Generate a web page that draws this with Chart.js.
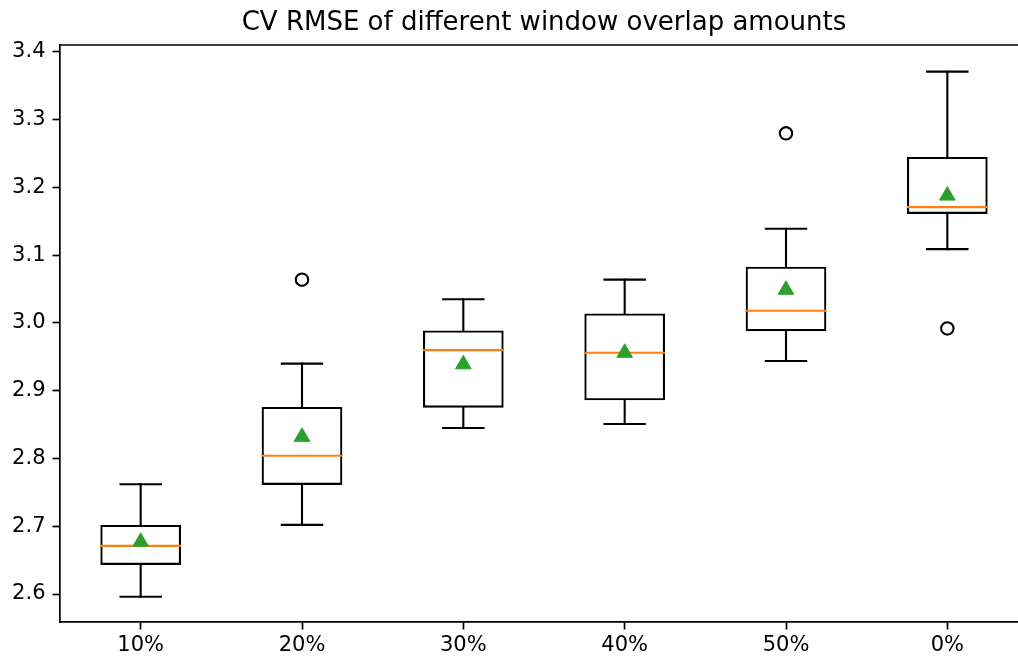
<!DOCTYPE html>
<html>
<head>
<meta charset="utf-8">
<script src="https://cdn.jsdelivr.net/npm/chart.js@4/dist/chart.umd.min.js"></script>
<style>
  html, body { margin: 0; padding: 0; background: #fff; overflow: hidden; }
  #wrap { width: 1018px; height: 658px; overflow: hidden; }
  canvas { display: block; }
</style>
</head>
<body>
<div id="wrap"><canvas id="chart" width="1040" height="658"></canvas></div>
<script>
const labels = ["10%", "20%", "30%", "40%", "50%", "0%"];
const whiskerLow = [2.596, 2.702, 2.845, 2.851, 2.944, 3.109];
const boxLow = [2.643, 2.761, 2.875, 2.886, 2.988, 3.161];
const medians = [2.671, 2.804, 2.960, 2.956, 3.018, 3.171];
const boxHigh = [2.702, 2.876, 2.989, 3.014, 3.083, 3.245];
const whiskerHigh = [2.762, 2.940, 3.035, 3.064, 3.139, 3.371];
const means = [2.677, 2.832, 2.939, 2.956, 3.049, 3.188];
const outlierGroups = [2, 5, 6];
const outlierValues = [3.064, 3.280, 2.992];
const yTicks = [2.6, 2.7, 2.8, 2.9, 3.0, 3.1, 3.2, 3.3, 3.4];

const font = "'DejaVu Sans', sans-serif";
const BOX_INDEX = 2;

// whiskers, caps and medians go on top of the box outlines, under the markers
const whiskerPlugin = {
  id: "whiskers",
  afterDatasetDraw(chart, args) {
    if (args.index !== BOX_INDEX) return;
    const { ctx, scales: { x, y } } = chart;
    const line = (x0, y0, x1, y1) => {
      ctx.beginPath(); ctx.moveTo(x0, y0); ctx.lineTo(x1, y1); ctx.stroke();
    };
    ctx.save();
    labels.forEach((_, i) => {
      const cx = x.getPixelForValue(i + 1);
      const capL = x.getPixelForValue(i + 1 - 0.125), capR = x.getPixelForValue(i + 1 + 0.125);
      ctx.strokeStyle = "#000"; ctx.lineWidth = 2.1; ctx.lineCap = "square";
      line(cx, y.getPixelForValue(boxHigh[i]), cx, y.getPixelForValue(whiskerHigh[i]));
      line(cx, y.getPixelForValue(boxLow[i]), cx, y.getPixelForValue(whiskerLow[i]));
      line(capL, y.getPixelForValue(whiskerHigh[i]), capR, y.getPixelForValue(whiskerHigh[i]));
      line(capL, y.getPixelForValue(whiskerLow[i]), capR, y.getPixelForValue(whiskerLow[i]));
      ctx.lineCap = "butt"; ctx.strokeStyle = "#ff7f0e";
      const m = y.getPixelForValue(medians[i]);
      line(x.getPixelForValue(i + 1 - 0.25), m, x.getPixelForValue(i + 1 + 0.25), m);
    });
    ctx.restore();
  },
  afterDraw(chart) {
    // top and right spines
    const { ctx, chartArea: a } = chart;
    ctx.save();
    ctx.strokeStyle = "#000"; ctx.lineWidth = 1.7;
    ctx.beginPath();
    ctx.moveTo(a.left, a.top); ctx.lineTo(a.right, a.top); ctx.lineTo(a.right, a.bottom);
    ctx.stroke();
    ctx.restore();
  },
};

new Chart(document.getElementById("chart"), {
  type: "bar",
  data: {
    datasets: [
      {
        type: "scatter", label: "mean",
        data: means.map((v, i) => ({ x: i + 1, y: v })),
        pointStyle: "triangle", pointRadius: 9, pointBorderWidth: 1,
        backgroundColor: "#2ca02c", borderColor: "#2ca02c",
      },
      {
        type: "scatter", label: "outliers",
        data: outlierGroups.map((g, i) => ({ x: g, y: outlierValues[i] })),
        pointStyle: "circle", pointRadius: 6.2, pointBorderWidth: 2.1,
        backgroundColor: "rgba(0,0,0,0)", borderColor: "#000",
      },
      {
        label: "box",
        data: boxLow.map((v, i) => ({ x: i + 1, y: [v, boxHigh[i]] })),
        backgroundColor: "rgba(0,0,0,0)", borderColor: "#000",
        borderWidth: 2.1, borderSkipped: false,
        barPercentage: 0.5, categoryPercentage: 1,
      },
    ],
  },
  options: {
    responsive: false, animation: false, devicePixelRatio: 1,
    layout: { padding: { left: 0, right: 12, top: 0, bottom: 0 } },
    scales: {
      x: {
        type: "linear", min: 0.5, max: 6.5, offset: false,
        afterBuildTicks: (s) => { s.ticks = labels.map((_, i) => ({ value: i + 1 })); },
        afterFit: (s) => { s.height = 36; },
        ticks: {
          callback: (v) => labels[v - 1], color: "#000",
          font: { family: font, size: 21 }, padding: 3.5, maxRotation: 0, autoSkip: false,
        },
        grid: { offset: false, drawOnChartArea: false, drawTicks: true, tickLength: 7.5, tickColor: "#000", tickWidth: 1.7 },
        border: { display: true, color: "#000", width: 1.7 },
      },
      y: {
        type: "linear", min: 2.5587, max: 3.4103,
        afterBuildTicks: (s) => { s.ticks = yTicks.map((v) => ({ value: v })); },
        afterFit: (s) => { s.width = 60; },
        ticks: {
          callback: (v) => v.toFixed(1), color: "#000",
          font: { family: font, size: 21 }, padding: 7,
        },
        grid: { drawOnChartArea: false, drawTicks: true, tickLength: 7.5, tickColor: "#000", tickWidth: 1.7 },
        border: { display: true, color: "#000", width: 1.7 },
      },
    },
    plugins: {
      legend: { display: false },
      tooltip: { enabled: false },
      title: {
        display: true, fullSize: false,
        text: "CV RMSE of different window overlap amounts",
        color: "#000", font: { family: font, size: 26, weight: "normal", lineHeight: 1.2 },
        padding: { top: 7.3, bottom: 6.5 },
      },
    },
  },
  plugins: [whiskerPlugin],
});
</script>
</body>
</html>
